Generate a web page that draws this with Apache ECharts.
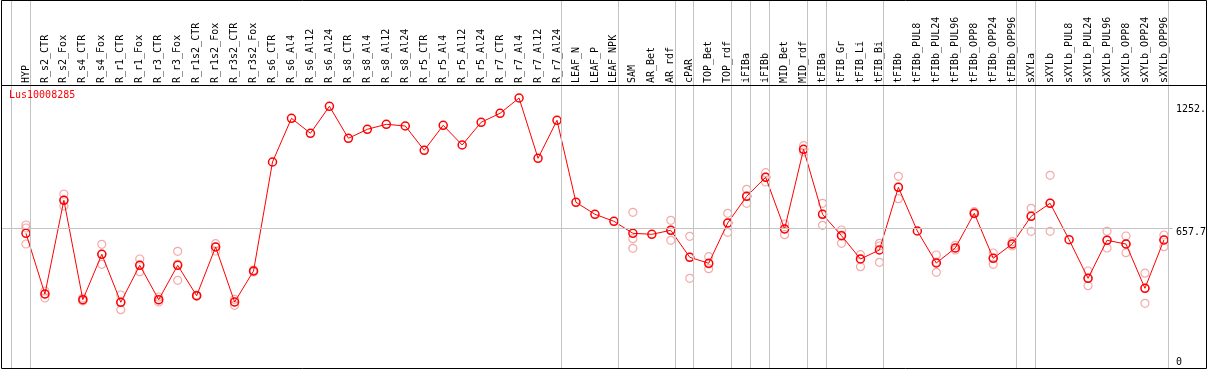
<!DOCTYPE html>
<html>
<head>
<meta charset="utf-8">
<script src="https://cdn.jsdelivr.net/npm/echarts@6/dist/echarts.min.js"></script>
<style>
html,body{margin:0;padding:0;background:#fff;}
#chart{width:1209px;height:370px;}
</style>
</head>
<body>
<div id="chart"></div>
<script>
const title = 'Lus10008285';
const categories = ['HYP','R_s2_CTR','R_s2_Fox','R_s4_CTR','R_s4_Fox','R_r1_CTR','R_r1_Fox','R_r3_CTR','R_r3_Fox','R_r1s2_CTR','R_r1s2_Fox','R_r3s2_CTR','R_r3s2_Fox','R_s6_CTR','R_s6_Al4','R_s6_Al12','R_s6_Al24','R_s8_CTR','R_s8_Al4','R_s8_Al12','R_s8_Al24','R_r5_CTR','R_r5_Al4','R_r5_Al12','R_r5_Al24','R_r7_CTR','R_r7_Al4','R_r7_Al12','R_r7_Al24','LEAF_N','LEAF_P','LEAF_NPK','SAM','AR_Bet','AR_rdf','cPAR','TOP_Bet','TOP_rdf','iFIBa','iFIBb','MID_Bet','MID_rdf','tFIBa','tFIB_Gr','tFIB_Li','tFIB_Bi','tFIBb','tFIBb_PUL8','tFIBb_PUL24','tFIBb_PUL96','tFIBb_OPP8','tFIBb_OPP24','tFIBb_OPP96','sXYLa','sXYLb','sXYLb_PUL8','sXYLb_PUL24','sXYLb_PUL96','sXYLb_OPP8','sXYLb_OPP24','sXYLb_OPP96'];
const means = [632,338.5,791.7,311,530.5,298.4,477.3,311,477.3,330.3,565.8,299.8,449.8,976.9,1188.2,1115.7,1246.2,1091.5,1135,1159.2,1151,1033.5,1154.4,1059.1,1168.9,1212.4,1286.4,994.8,1178.5,782,724,690.1,632,627.2,646.6,516,487,681.9,811,902.9,652.9,1038.3,724,620.5,507.8,551.3,854.5,643.2,488.4,561,728.8,511.2,580.3,714.3,777.1,601.1,414.5,598.2,580.3,366.1,599.7];
const rep1 = [672.2,353.0,822.1,319.2,578.9,333.7,507.8,324,545,333.7,581.8,312.9,454.6,
  null,null,null,null,null,null,null,null,null,null,null,null,null,null,null,null,null,null,null,
  733.6,null,694.9,617.6,518.9,728.8,844.9,925.1,677,1055.7,777.1,648,528.6,583.7,907.7,null,527.1,574,736.5,536.8,591.4,753,912.6,null,449.8,641.7,619,439.4,623.9];
const rep2 = [657.7,338.5,793,309.5,532,299.8,478.8,309.5,483.6,328.9,565.8,299.8,449.8,
  null,null,null,null,null,null,null,null,null,null,null,null,null,null,null,null,null,null,null,
  605.9,null,648,517.5,483.6,681.9,812.5,904.3,652.9,1037.3,725.4,623.9,507.8,570.7,856,null,493.3,561,728.8,512.6,580.3,715.7,778.6,null,415.9,599.7,580.3,367.5,599.7];
const rep3 = [580.3,319.2,764.1,304.7,482.1,262.6,446.4,299.8,404.8,328.9,546.5,283.9,445,
  null,null,null,null,null,null,null,null,null,null,null,null,null,null,null,null,null,null,null,
  559.5,null,598.2,414.5,460.9,636.9,777.1,880.2,625.3,1025.2,670.8,583.7,470.6,491.8,799.4,null,443.5,551.3,725.4,482.1,570.7,641.7,641.7,null,378.7,561,538.3,293.6,567.3];
const yTickValues = [0, 657.7, 1252];
const yTickLabels = ['0', '657.7', '1252.'];
const hLine = 657.7;
// group separators drawn just after these category indices
const separatorsAfter = [-1,0,28,31,34,35,37,38,39,41,42,45,52,53,60];

const MONO = 'DejaVu Sans Mono';
const repData = [];
[rep1, rep2, rep3].forEach(arr => arr.forEach((v, i) => { if (v !== null) repData.push([i, v]); }));

const chart = echarts.init(document.getElementById('chart'), null, {renderer: 'canvas'});
chart.setOption({
  animation: false,
  backgroundColor: '#fff',
  title: {
    text: title, left: 9, top: 90, padding: 0,
    textStyle: {color: '#ff0000', fontSize: 10, fontFamily: MONO, fontWeight: 'normal'}
  },
  grid: {left: 1, right: 34, top: 0, bottom: 1, containLabel: false},
  xAxis: {
    type: 'value', position: 'top', offset: -85,
    min: -25/19, max: 1149/19,
    axisLine: {show: false}, axisTick: {show: false}, splitLine: {show: false},
    axisLabel: {
      customValues: categories.map((c, i) => i),
      formatter: v => categories[Math.round(v)] || '',
      rotate: 90, margin: 2, fontFamily: MONO, fontSize: 10, color: '#000'
    }
  },
  yAxis: {
    type: 'value', position: 'right',
    min: -24.2, max: 1760.3,
    axisLine: {show: false}, axisTick: {show: false}, splitLine: {show: false},
    axisLabel: {
      customValues: yTickValues,
      formatter: v => {
        const k = yTickValues.indexOf(v);
        const t = k >= 0 ? yTickLabels[k] : '';
        return v === 0 ? '{z|' + t + '}' : '{t|' + t + '}';
      },
      margin: 3, verticalAlign: 'middle',
      rich: {
        t: {fontFamily: MONO, fontSize: 10, color: '#000', padding: [9, 0, 0, 0]},
        z: {fontFamily: MONO, fontSize: 10, color: '#000', padding: [0, 0, 4, 0]}
      }
    }
  },
  graphic: [
    {type: 'rect', shape: {x: 1.5, y: 0.5, width: 1205, height: 368}, style: {fill: null, stroke: '#000', lineWidth: 1}, z: 100},
    {type: 'line', shape: {x1: 1, y1: 85.5, x2: 1207, y2: 85.5}, style: {stroke: '#000', lineWidth: 1}, z: 100}
  ],
  series: [
    {
      type: 'scatter', data: repData, symbol: 'circle', symbolSize: 8,
      itemStyle: {color: 'rgba(0,0,0,0)', borderColor: '#f29494', borderWidth: 1.2}, z: 2, silent: true,
      markLine: {
        silent: true, symbol: ['none', 'none'], label: {show: false},
        lineStyle: {color: '#c4c4c4', width: 1, type: 'solid'},
        data: separatorsAfter.map(i => ({xAxis: i + 0.21})).concat([{yAxis: hLine}])
      }
    },
    {
      type: 'line', data: means.map((v, i) => [i, v]), symbol: 'circle', symbolSize: 8,
      lineStyle: {color: '#ff0000', width: 1},
      itemStyle: {color: 'rgba(0,0,0,0)', borderColor: '#ff0000', borderWidth: 1.5}, z: 3
    }
  ]
});
</script>
</body>
</html>
